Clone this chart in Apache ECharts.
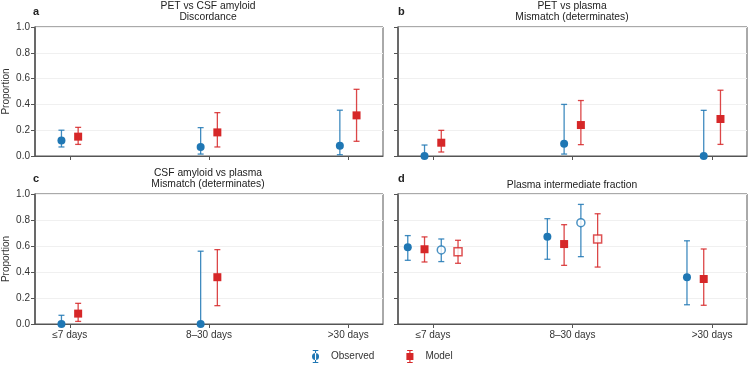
<!DOCTYPE html>
<html><head><meta charset="utf-8">
<script src="https://cdn.jsdelivr.net/npm/echarts@6/dist/echarts.min.js"></script>
<style>html,body{margin:0;padding:0;background:#fff}#c{width:750px;height:366px}</style>
</head><body><div id="c"></div>
<script>
const categories = ['≤7 days', '8–30 days', '>30 days'];
const yTickValues = [0, 0.2, 0.4, 0.6, 0.8, 1.0];

// Panel a: PET vs CSF amyloid discordance
const aObs = [0.12, 0.07, 0.08];
const aObsLo = [0.07, 0.015, 0.01];
const aObsHi = [0.20, 0.22, 0.355];
const aMod = [0.15, 0.183, 0.315];
const aModLo = [0.09, 0.07, 0.114];
const aModHi = [0.222, 0.336, 0.517];

// Panel b: PET vs plasma mismatch
const bObs = [0, 0.095, 0];
const bObsLo = [0, 0.015, 0];
const bObsHi = [0.085, 0.40, 0.354];
const bMod = [0.103, 0.24, 0.287];
const bModLo = [0.031, 0.088, 0.09];
const bModHi = [0.199, 0.43, 0.51];

// Panel c: CSF amyloid vs plasma mismatch
const cObs = [0, 0, null];
const cObsLo = [0, 0, null];
const cObsHi = [0.067, 0.56, null];
const cMod = [0.08, 0.36, null];
const cModLo = [0.02, 0.141, null];
const cModHi = [0.159, 0.572, null];

// Panel d: Plasma intermediate fraction
const dObs = [0.59, 0.672, 0.36];
const dObsLo = [0.49, 0.498, 0.148];
const dObsHi = [0.68, 0.81, 0.64];
const dMod = [0.575, 0.615, 0.346];
const dModLo = [0.477, 0.451, 0.144];
const dModHi = [0.67, 0.764, 0.577];
const dObsOpen = [0.57, 0.779, null];
const dObsOpenLo = [0.48, 0.518, null];
const dObsOpenHi = [0.654, 0.92, null];
const dModOpen = [0.556, 0.654, null];
const dModOpenLo = [0.467, 0.438, null];
const dModOpenHi = [0.644, 0.848, null];

const BLUE = '#1f77b4', RED = '#d62728';
const BLUE_BAR = 'rgba(31,119,180,0.85)', RED_BAR = 'rgba(214,39,40,0.85)';
const FONT = 'Liberation Sans, Arial, sans-serif';

const grids = [
  {left: 33, top: 27, width: 350, height: 129},
  {left: 398, top: 27, width: 349, height: 129},
  {left: 33, top: 194, width: 350, height: 130},
  {left: 398, top: 194, width: 349, height: 130}
];

const xAxes = grids.map((g, i) => ({
  type: 'value', gridIndex: i, min: -0.25, max: 2.25,
  splitLine: {show: false},
  axisLine: {show: true, onZero: false, lineStyle: {color: '#555', width: 1.2}},
  axisTick: {show: true, customValues: [0, 1, 2], length: 4, lineStyle: {color: '#555'}},
  axisLabel: {show: i >= 2, customValues: [0, 1, 2], formatter: v => categories[Math.round(v)],
    fontSize: 10, color: '#333', fontFamily: FONT, margin: 6}
}));

const yAxes = grids.map((g, i) => ({
  type: 'value', gridIndex: i, min: 0, max: 1, interval: 0.2,
  name: i % 2 === 0 ? 'Proportion' : '', nameLocation: 'middle', nameGap: 24,
  nameTextStyle: {fontSize: 10, color: '#333', fontFamily: FONT},
  splitLine: {show: true, lineStyle: {color: '#f0f0f0', width: 1}},
  axisLine: {show: true, onZero: false, lineStyle: {color: '#555', width: 1.5}},
  axisTick: {show: true, length: 4, lineStyle: {color: '#555'}},
  axisLabel: {show: i % 2 === 0, formatter: v => v.toFixed(1), fontSize: 10, color: '#333',
    fontFamily: FONT, margin: 5}
}));

function errData(lo, hi, off) {
  const out = [];
  lo.forEach((l, k) => { if (l !== null) out.push([k + off, l, hi[k]]); });
  return out;
}
function ptData(v, off) {
  const out = [];
  v.forEach((y, k) => { if (y !== null) out.push([k + off, y]); });
  return out;
}
function errSeries(name, gi, lo, hi, off, color) {
  return {
    type: 'custom', name: name, xAxisIndex: gi, yAxisIndex: gi, z: 2,
    data: errData(lo, hi, off),
    renderItem: function (params, api) {
      const x = api.value(0);
      const p1 = api.coord([x, api.value(1)]);
      const p2 = api.coord([x, api.value(2)]);
      const w = 3;
      const st = {stroke: color, lineWidth: 1.3};
      return {type: 'group', children: [
        {type: 'line', shape: {x1: p1[0], y1: p1[1], x2: p2[0], y2: p2[1]}, style: st},
        {type: 'line', shape: {x1: p1[0] - w, y1: p1[1], x2: p1[0] + w, y2: p1[1]}, style: st},
        {type: 'line', shape: {x1: p2[0] - w, y1: p2[1], x2: p2[0] + w, y2: p2[1]}, style: st}
      ]};
    }
  };
}
function ptSeries(name, gi, v, off, symbol, color, open) {
  return {
    type: 'scatter', name: name, xAxisIndex: gi, yAxisIndex: gi, z: 5,
    symbol: symbol, symbolSize: 8,
    data: ptData(v, off),
    itemStyle: open ? {color: '#fff', borderColor: color, borderWidth: 1.5} : {color: color, opacity: 1},
    emphasis: {disabled: true}
  };
}

const series = [];
const panels = [
  [0, aObs, aObsLo, aObsHi, aMod, aModLo, aModHi],
  [1, bObs, bObsLo, bObsHi, bMod, bModLo, bModHi],
  [2, cObs, cObsLo, cObsHi, cMod, cModLo, cModHi]
];
const OFF_IN = 0.06, OFF_OUT = 0.18;
panels.forEach(p => {
  const [gi, o, ol, oh, m, ml, mh] = p;
  series.push(errSeries('Observed', gi, ol, oh, -OFF_IN, BLUE_BAR));
  series.push(errSeries('Model', gi, ml, mh, OFF_IN, RED_BAR));
  series.push(ptSeries('Observed', gi, o, -OFF_IN, 'circle', BLUE, false));
  series.push(ptSeries('Model', gi, m, OFF_IN, 'rect', RED, false));
});
series.push(errSeries('Observed', 3, dObsLo, dObsHi, -OFF_OUT, BLUE_BAR));
series.push(errSeries('Model', 3, dModLo, dModHi, -OFF_IN, RED_BAR));
series.push(errSeries('Observed', 3, dObsOpenLo, dObsOpenHi, OFF_IN, BLUE_BAR));
series.push(errSeries('Model', 3, dModOpenLo, dModOpenHi, OFF_OUT, RED_BAR));
series.push(ptSeries('Observed', 3, dObs, -OFF_OUT, 'circle', BLUE, false));
series.push(ptSeries('Model', 3, dMod, -OFF_IN, 'rect', RED, false));
series.push(ptSeries('Observed', 3, dObsOpen, OFF_IN, 'circle', BLUE, true));
series.push(ptSeries('Model', 3, dModOpen, OFF_OUT, 'rect', RED, true));

const iconObs = 'path://M2,0h6v1.2h-6z M4.4,0h1.2v14h-1.2z M2,12.8h6v1.2h-6z M5,3.2a3.8,3.8 0 1,0 0.001,0z';
const iconMod = 'path://M2,0h6v1.2h-6z M4.4,0h1.2v14h-1.2z M2,12.8h6v1.2h-6z M1.2,3.2h7.6v7.6h-7.6z';

const titleStyle = {fontSize: 10.3, fontWeight: 'normal', color: '#222', fontFamily: FONT, lineHeight: 11};
const letterStyle = {fontSize: 11, fontWeight: 'bold', color: '#222', fontFamily: FONT};

const option = {
  animation: false,
  grid: grids.map(g => Object.assign({show: true, borderColor: '#555', borderWidth: 1, backgroundColor: 'transparent'}, g)),
  xAxis: xAxes, yAxis: yAxes,
  title: [
    {text: 'PET vs CSF amyloid\nDiscordance', left: 208, top: 1, padding: 0, textAlign: 'center', textStyle: titleStyle},
    {text: 'PET vs plasma\nMismatch (determinates)', left: 572, top: 1, padding: 0, textAlign: 'center', textStyle: titleStyle},
    {text: 'CSF amyloid vs plasma\nMismatch (determinates)', left: 208, top: 168, padding: 0, textAlign: 'center', textStyle: titleStyle},
    {text: 'Plasma intermediate fraction', left: 572, top: 180, padding: 0, textAlign: 'center', textStyle: titleStyle},
    {text: 'a', left: 33, top: 6, padding: 0, textStyle: letterStyle},
    {text: 'b', left: 398, top: 6, padding: 0, textStyle: letterStyle},
    {text: 'c', left: 33, top: 173, padding: 0, textStyle: letterStyle},
    {text: 'd', left: 398, top: 173, padding: 0, textStyle: letterStyle}
  ],
  legend: {
    left: 312, top: 350, padding: 0, itemWidth: 9, itemHeight: 13, itemGap: 32, orient: 'horizontal',
    selectedMode: false,
    textStyle: {fontSize: 10, color: '#333', fontFamily: FONT, padding: [0, 0, 0, 6]},
    data: [
      {name: 'Observed', icon: iconObs, itemStyle: {color: BLUE}},
      {name: 'Model', icon: iconMod, itemStyle: {color: RED}}
    ]
  },
  series: series
};
echarts.init(document.getElementById('c')).setOption(option);
</script></body></html>
